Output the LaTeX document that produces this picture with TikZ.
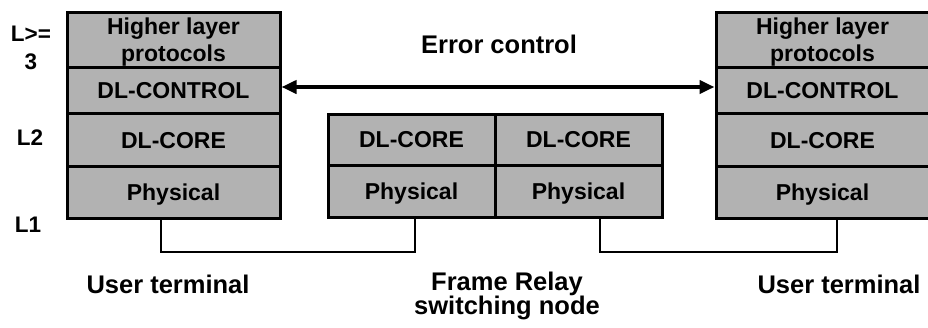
\documentclass[tikz,border=0pt]{standalone}
\usepackage{fontspec}
\setmainfont{Liberation Sans}
\usepackage{tikz}
\usetikzlibrary{arrows.meta,positioning}

\begin{document}
\begin{tikzpicture}[x=1pt,y=-1pt,>=Triangle,
 layer/.style={draw,line width=3pt,fill=gray!60,outer sep=0pt,inner sep=0pt,align=center,
   text depth=0pt,font=\bfseries\fontsize{23}{27}\selectfont},
 wide/.style={layer,minimum width=213pt},
 half/.style={layer,minimum width=167pt},
 lbl/.style={align=center,font=\bfseries\fontsize{25.5}{24.5}\selectfont},
 side/.style={align=center,font=\bfseries\fontsize{22.5}{28}\selectfont},
 wire/.style={line width=2.7pt},
 arr/.style={line width=4pt,shorten <=1.5pt,shorten >=1.5pt,
   arrows={Triangle[length=15pt,width=13pt]-Triangle[length=15pt,width=13pt]}}]
\useasboundingbox (0,0) rectangle (928,327);
\node[wide,minimum height=55pt] (hlA) at (173.5,40) {Higher layer\\protocols};
\node[wide,minimum height=46pt,below=0pt of hlA] (ctlA) {DL-CONTROL};
\node[wide,minimum height=53pt,below=0pt of ctlA] (coreA) {DL-CORE};
\node[wide,minimum height=52pt,below=0pt of coreA] (phyA) {Physical};
\node[half,minimum height=51pt] (coreB) at (411.5,139.5) {DL-CORE};
\node[half,minimum height=51pt,right=0pt of coreB] (coreC) {DL-CORE};
\node[half,minimum height=52pt,below=0pt of coreB] (phyB) {Physical};
\node[half,minimum height=52pt,below=0pt of coreC] (phyC) {Physical};
\node[wide,minimum height=55pt] (hlD) at (822.5,40) {Higher layer\\protocols};
\node[wide,minimum height=46pt,below=0pt of hlD] (ctlD) {DL-CONTROL};
\node[wide,minimum height=53pt,below=0pt of ctlD] (coreD) {DL-CORE};
\node[wide,minimum height=52pt,below=0pt of coreD] (phyD) {Physical};
\draw[arr] ([yshift=3.5pt]ctlA.east) -- ([yshift=3.5pt]ctlD.west);
\node[lbl,anchor=base] (err) at (499,53) {Error control};
\draw[wire] ([xshift=-12.5pt]phyA.south) -- ++(0,33.5) -| ([xshift=3.5pt]phyB.south);
\draw[wire] ([xshift=21.5pt]phyC.south) -- ++(0,35) -| ([xshift=14.5pt]phyD.south);
\node[side] (l3) at (31,48) {L>=\\3};
\node[side,anchor=base] (l2) at (30,145) {L2};
\node[side,anchor=base] (l1) at (28,232) {L1};
\node[lbl,anchor=base] (userA) at (168,293) {User terminal};
\node[lbl] (frsw) at (507,296) {Frame Relay\\switching node};
\node[lbl,anchor=base] (userD) at (839,293) {User terminal};
\end{tikzpicture}
\end{document}
